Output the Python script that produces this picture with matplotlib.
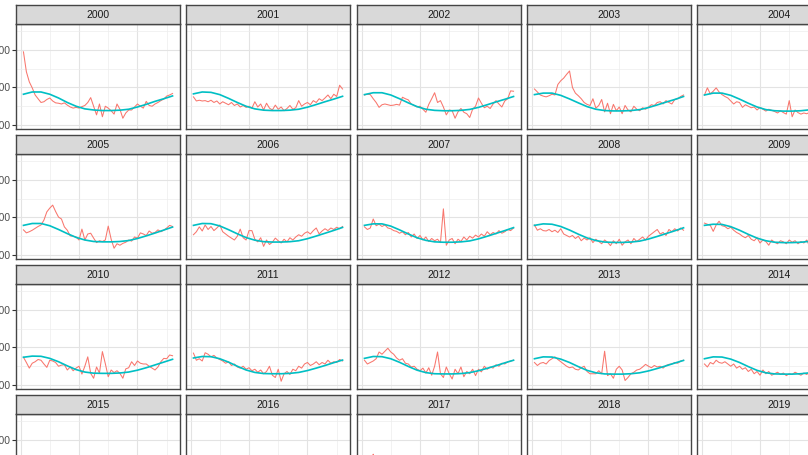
#%%
# weekly counts per year, observed vs fitted seasonal curve
import numpy as np
import matplotlib.pyplot as plt

plt.rcParams['font.family'] = ['Liberation Sans', 'DejaVu Sans']

years = list(range(2000, 2020))
weeks = np.arange(1, 53)
knot_weeks = np.arange(1, 53, 3)

obs_2000 = [2950, 2420, 2150, 1990, 1800, 1700, 1600, 1620, 1680, 1720, 1640, 1590, 1580,
            1560, 1590, 1530, 1480, 1450, 1470, 1450, 1490, 1520, 1600, 1730, 1500, 1270,
            1560, 1220, 1500, 1450, 1380, 1290, 1560, 1420, 1180, 1320, 1400, 1400, 1480,
            1560, 1500, 1450, 1630, 1520, 1500, 1560, 1600, 1650, 1690, 1770, 1800, 1840]
obs_2001 = [1750, 1640, 1660, 1640, 1650, 1620, 1660, 1600, 1640, 1560, 1620, 1580, 1540,
            1600, 1520, 1560, 1480, 1520, 1470, 1500, 1450, 1620, 1480, 1560, 1400, 1580,
            1450, 1400, 1530, 1420, 1480, 1380, 1440, 1520, 1420, 1460, 1650, 1500, 1560,
            1600, 1540, 1650, 1600, 1700, 1650, 1720, 1800, 1700, 1820, 1760, 2060, 1960]
obs_2002 = [1800, 1820, 1810, 1700, 1600, 1470, 1540, 1560, 1540, 1520, 1530, 1550, 1530,
            1740, 1700, 1670, 1560, 1520, 1480, 1500, 1420, 1340, 1550, 1700, 1860, 1600,
            1650, 1480, 1270, 1400, 1380, 1180, 1350, 1440, 1340, 1300, 1200, 1420, 1500,
            1720, 1580, 1460, 1500, 1440, 1560, 1650, 1560, 1480, 1640, 1700, 1910, 1900]
obs_2003 = [1960, 1880, 1800, 1770, 1750, 1780, 1820, 1800, 2080, 2180, 2250, 2350, 2440,
            2000, 1850, 1780, 1700, 1600, 1550, 1520, 1700, 1450, 1520, 1680, 1350, 1580,
            1300, 1550, 1380, 1480, 1300, 1520, 1400, 1350, 1500, 1420, 1380, 1460, 1420,
            1480, 1540, 1520, 1600, 1620, 1560, 1650, 1600, 1560, 1680, 1700, 1760, 1800]
obs_2004 = [1800, 1990, 1830, 1900, 1990, 1880, 1810, 1760, 1720, 1640, 1560, 1620, 1600,
            1470, 1540, 1500, 1460, 1480, 1400, 1470, 1420, 1370, 1420, 1390, 1360, 1320,
            1380, 1330, 1290, 1650, 1220, 1400, 1330, 1290, 1320, 1300, 1340, 1310, 1380,
            1400, 1360, 1450, 1420, 1500, 1480, 1560, 1540, 1600, 1620, 1650, 1700, 1720]
obs_2005 = [1670, 1590, 1620, 1660, 1710, 1760, 1800, 1930, 2150, 2250, 2330, 2160, 2010,
            1960, 1750, 1660, 1510, 1500, 1480, 1400, 1690, 1400, 1560, 1580, 1450, 1330,
            1380, 1360, 1400, 1770, 1420, 1180, 1300, 1260, 1310, 1340, 1400, 1370, 1480,
            1450, 1590, 1560, 1520, 1640, 1580, 1600, 1670, 1620, 1660, 1720, 1790, 1760]
obs_2006 = [1540, 1620, 1750, 1640, 1800, 1680, 1760, 1650, 1720, 1800, 1620, 1560, 1500,
            1450, 1400, 1500, 1690, 1460, 1400, 1650, 1650, 1420, 1350, 1460, 1230, 1400,
            1280, 1340, 1450, 1380, 1320, 1420, 1350, 1460, 1400, 1480, 1540, 1500, 1580,
            1620, 1560, 1650, 1720, 1560, 1640, 1700, 1650, 1720, 1680, 1740, 1700, 1760]
obs_2007 = [1750, 1680, 1720, 1960, 1780, 1820, 1760, 1800, 1720, 1700, 1650, 1630, 1580,
            1620, 1540, 1600, 1480, 1560, 1440, 1520, 1400, 1480, 1360, 1440, 1380, 1420,
            1330, 2230, 1260, 1400, 1440, 1300, 1420, 1360, 1480, 1400, 1500, 1450, 1530,
            1480, 1560, 1500, 1620, 1540, 1600, 1560, 1650, 1580, 1620, 1680, 1650, 1720]
obs_2008 = [1800, 1660, 1700, 1650, 1640, 1680, 1620, 1660, 1600, 1700, 1560, 1520, 1480,
            1520, 1440, 1500, 1380, 1450, 1400, 1460, 1330, 1420, 1360, 1300, 1400, 1340,
            1250, 1380, 1300, 1420, 1260, 1350, 1400, 1300, 1440, 1360, 1420, 1480, 1400,
            1500, 1560, 1620, 1680, 1560, 1600, 1520, 1680, 1620, 1700, 1640, 1720, 1660]
obs_2009 = [1850, 1820, 1790, 1630, 1800, 1900, 1780, 1760, 1700, 1740, 1660, 1600, 1560,
            1500, 1460, 1520, 1420, 1380, 1460, 1320, 1400, 1360, 1260, 1400, 1340, 1300,
            1380, 1350, 1300, 1400, 1340, 1380, 1300, 1360, 1320, 1400, 1220, 1300, 1350,
            1400, 1380, 1450, 1420, 1500, 1480, 1550, 1520, 1580, 1600, 1620, 1650, 1680]
obs_2010 = [1740, 1600, 1450, 1580, 1620, 1680, 1660, 1560, 1470, 1660, 1640, 1600, 1500,
            1530, 1540, 1400, 1480, 1380, 1450, 1500, 1290, 1500, 1750, 1310, 1180, 1480,
            1320, 1890, 1570, 1220, 1400, 1330, 1380, 1310, 1180, 1430, 1460, 1620, 1520,
            1640, 1580, 1560, 1560, 1500, 1450, 1400, 1480, 1620, 1710, 1700, 1800, 1780]
obs_2011 = [1850, 1660, 1700, 1640, 1860, 1820, 1750, 1790, 1720, 1680, 1640, 1580, 1620,
            1520, 1560, 1480, 1450, 1500, 1420, 1460, 1380, 1420, 1340, 1400, 1300, 1360,
            1500, 1260, 1200, 1420, 1100, 1300, 1360, 1280, 1420, 1380, 1500, 1450, 1560,
            1600, 1520, 1560, 1620, 1540, 1600, 1560, 1660, 1580, 1620, 1600, 1680, 1640]
obs_2012 = [1660, 1560, 1600, 1640, 1700, 1880, 1820, 1900, 1980, 1880, 1820, 1720, 1660,
            1700, 1580, 1560, 1480, 1500, 1420, 1380, 1450, 1320, 1460, 1260, 1500, 1880,
            1300, 1200, 1480, 1300, 1160, 1420, 1300, 1480, 1220, 1360, 1300, 1420, 1250,
            1420, 1350, 1500, 1420, 1480, 1450, 1540, 1500, 1580, 1560, 1620, 1640, 1660]
obs_2013 = [1600, 1520, 1580, 1600, 1560, 1650, 1700, 1750, 1680, 1620, 1560, 1500, 1460,
            1480, 1420, 1400, 1460, 1500, 1360, 1300, 1300, 1300, 1380, 1300, 1900, 1250,
            1300, 1180, 1420, 1500, 1400, 1120, 1200, 1300, 1340, 1400, 1420, 1480, 1550,
            1500, 1460, 1520, 1480, 1500, 1450, 1520, 1550, 1560, 1600, 1580, 1640, 1660]
obs_2014 = [1560, 1480, 1600, 1560, 1660, 1600, 1580, 1620, 1560, 1500, 1560, 1450, 1500,
            1420, 1460, 1360, 1420, 1300, 1360, 1260, 1400, 1300, 1360, 1260, 1300, 1340,
            1280, 1320, 1250, 1300, 1280, 1340, 1300, 1260, 1320, 1280, 1350, 1300, 1380,
            1400, 1380, 1420, 1460, 1440, 1500, 1520, 1540, 1560, 1580, 1600, 1620, 1640]
obs_2017 = [1700, 1900, 2250, 2620, 2200, 1900, 1800, 1750]

fit_2000 = [1820, 1880, 1880, 1820, 1720, 1600, 1500, 1430, 1400, 1385, 1385, 1395, 1420, 1480, 1550, 1630, 1700, 1775]
fit_2001 = [1830, 1880, 1870, 1810, 1710, 1600, 1500, 1430, 1395, 1385, 1385, 1395, 1420, 1475, 1545, 1620, 1690, 1765]
fit_2002 = [1810, 1860, 1860, 1800, 1700, 1590, 1490, 1420, 1390, 1380, 1380, 1390, 1415, 1470, 1540, 1615, 1685, 1760]
fit_2003 = [1810, 1850, 1850, 1790, 1695, 1590, 1490, 1420, 1385, 1375, 1375, 1385, 1410, 1465, 1535, 1610, 1680, 1760]
fit_2004 = [1800, 1850, 1850, 1790, 1690, 1580, 1480, 1410, 1380, 1370, 1370, 1380, 1405, 1460, 1530, 1600, 1675, 1750]
fit_2005 = [1790, 1840, 1840, 1780, 1680, 1570, 1470, 1400, 1360, 1350, 1350, 1360, 1385, 1440, 1510, 1585, 1665, 1745]
fit_2006 = [1790, 1840, 1835, 1775, 1675, 1565, 1465, 1395, 1355, 1345, 1345, 1355, 1380, 1435, 1505, 1580, 1655, 1735]
fit_2007 = [1790, 1830, 1830, 1770, 1670, 1560, 1460, 1390, 1350, 1340, 1340, 1350, 1375, 1430, 1500, 1575, 1650, 1730]
fit_2008 = [1790, 1830, 1820, 1760, 1665, 1555, 1455, 1385, 1345, 1335, 1335, 1345, 1370, 1425, 1495, 1570, 1645, 1725]
fit_2009 = [1790, 1820, 1815, 1755, 1660, 1550, 1450, 1380, 1340, 1330, 1330, 1340, 1365, 1420, 1490, 1565, 1640, 1715]
fit_2010 = [1740, 1770, 1765, 1710, 1620, 1510, 1410, 1345, 1315, 1310, 1310, 1320, 1345, 1395, 1460, 1535, 1610, 1685]
fit_2011 = [1720, 1760, 1755, 1700, 1610, 1500, 1400, 1335, 1305, 1300, 1300, 1310, 1335, 1385, 1450, 1520, 1595, 1665]
fit_2012 = [1710, 1760, 1755, 1700, 1605, 1495, 1395, 1330, 1300, 1295, 1295, 1305, 1330, 1380, 1445, 1515, 1590, 1660]
fit_2013 = [1700, 1750, 1745, 1690, 1600, 1490, 1390, 1325, 1295, 1290, 1290, 1300, 1325, 1375, 1440, 1510, 1585, 1655]
fit_2014 = [1700, 1750, 1745, 1690, 1600, 1490, 1390, 1325, 1295, 1290, 1290, 1300, 1325, 1375, 1440, 1510, 1585, 1655]

observed = {2000: obs_2000, 2001: obs_2001, 2002: obs_2002, 2003: obs_2003, 2004: obs_2004,
            2005: obs_2005, 2006: obs_2006, 2007: obs_2007, 2008: obs_2008, 2009: obs_2009,
            2010: obs_2010, 2011: obs_2011, 2012: obs_2012, 2013: obs_2013, 2014: obs_2014,
            2017: obs_2017}
fitted = {2000: fit_2000, 2001: fit_2001, 2002: fit_2002, 2003: fit_2003, 2004: fit_2004,
          2005: fit_2005, 2006: fit_2006, 2007: fit_2007, 2008: fit_2008, 2009: fit_2009,
          2010: fit_2010, 2011: fit_2011, 2012: fit_2012, 2013: fit_2013, 2014: fit_2014}

#%%
# facet grid laid out in pixels (the picture is a crop of a bigger figure)
W, H = 808, 455
fig = plt.figure(figsize=(W / 100, H / 100), dpi=100)
fig.patch.set_facecolor('white')

pan_w, pan_h, strip_h = 164, 105, 19
col_x = [16, 186, 357, 527, 697]
row_pitch = 130
edge = '#454545'

for i, yr in enumerate(years):
    r, c = divmod(i, 5)
    left = col_x[c]
    top = 24 + r * row_pitch

    ax = fig.add_axes([left / W, 1 - (top + pan_h) / H, pan_w / W, pan_h / H])
    ax.set_xlim(-1.55, 54.55)
    ax.set_ylim(893, 3693)
    ax.set_xticks([0, 20, 40])
    ax.set_xticks([10, 30, 50], minor=True)
    ax.set_yticks([1000, 2000, 3000])
    ax.set_yticks([1500, 2500, 3500], minor=True)
    ax.grid(which='major', color='#E3E3E3', lw=0.8)
    ax.grid(which='minor', color='#EDEDED', lw=0.5)
    ax.set_axisbelow(True)
    for s in ax.spines.values():
        s.set_color(edge)
        s.set_linewidth(1.0)
    ax.tick_params(which='both', bottom=False, labelbottom=False)
    ax.tick_params(which='minor', left=False)
    if c == 0:
        ax.tick_params(axis='y', which='major', length=3, width=0.8, color='#333333',
                       pad=1, labelsize=7.5, labelcolor='#4D4D4D')
    else:
        ax.tick_params(axis='y', which='major', left=False, labelleft=False)

    if yr in observed:
        y = observed[yr]
        ax.plot(weeks[:len(y)], y, color='#F8766D', lw=0.75)
    if yr in fitted:
        ax.plot(knot_weeks, fitted[yr], color='#00BFC4', lw=1.2)

    st = fig.add_axes([left / W, 1 - top / H, pan_w / W, strip_h / H])
    st.set_facecolor('#D9D9D9')
    st.set_xticks([])
    st.set_yticks([])
    for s in st.spines.values():
        s.set_color(edge)
        s.set_linewidth(1.0)
    st.text(0.5, 0.5, str(yr), ha='center', va='center', fontsize=7.5,
            color='#1A1A1A', transform=st.transAxes)

fig.savefig('out.png', dpi=100)
